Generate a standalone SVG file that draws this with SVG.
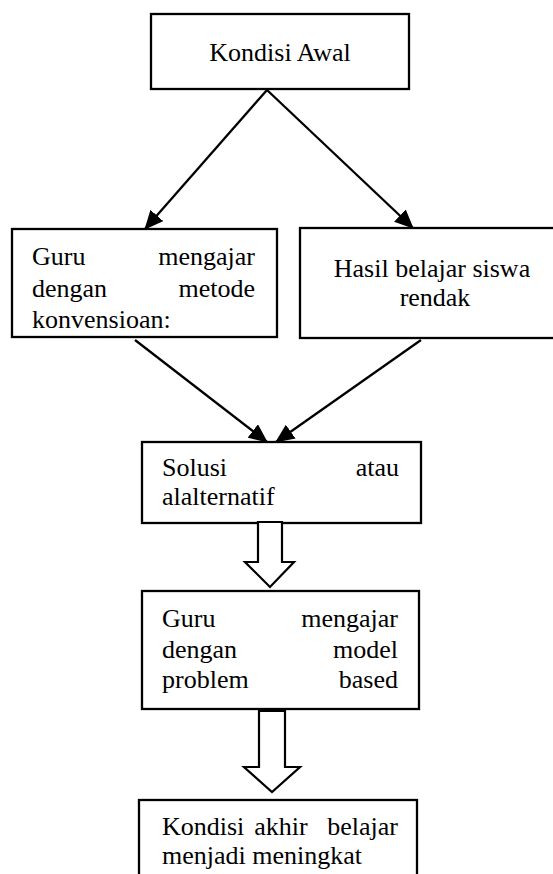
<svg xmlns="http://www.w3.org/2000/svg" width="553" height="874" viewBox="0 0 553 874">
<style>
.box{fill:#fff;stroke:#000;stroke-width:2.3}
text{font-family:'Liberation Serif','Times New Roman',Times,'DejaVu Serif',serif;font-size:26px;fill:#000}
.e{text-anchor:end}
.m{text-anchor:middle}
.ln{stroke:#000;stroke-width:2.3;fill:none}
.hollow{fill:#fff;stroke:#000;stroke-width:2.2;stroke-linejoin:miter}
</style>
<defs>
<marker id="ah" markerUnits="userSpaceOnUse" markerWidth="19" markerHeight="17" viewBox="0 0 19 17" refX="18" refY="8.5" orient="auto">
<path d="M0,0 L19,8.5 L0,17 Z" fill="#000"/>
</marker>
</defs>
<rect width="553" height="874" fill="#fff"/>
<g id="kondisi-awal">
<rect class="box" x="151" y="14" width="258" height="75"/>
<text class="m" x="280" y="61">Kondisi Awal</text>
</g>
<g id="guru-konvensional">
<rect class="box" x="12" y="229" width="265" height="108"/>
<text x="32" y="265">Guru</text><text class="e" x="255" y="265">mengajar</text>
<text x="32" y="297">dengan</text><text class="e" x="255" y="297">metode</text>
<text x="32" y="328">konvensioan:</text>
</g>
<g id="hasil-belajar">
<rect class="box" x="300" y="228" width="270" height="110"/>
<text class="m" x="432" y="277">Hasil belajar siswa</text>
<text class="m" x="435" y="306">rendak</text>
</g>
<g id="solusi">
<rect class="box" x="142" y="442" width="279" height="81"/>
<text x="162" y="476">Solusi</text><text class="e" x="399" y="476">atau</text>
<text x="162" y="505">alalternatif</text>
</g>
<g id="guru-pbl">
<rect class="box" x="142" y="591" width="277" height="118"/>
<text x="162" y="627">Guru</text><text class="e" x="398" y="627">mengajar</text>
<text x="162" y="658">dengan</text><text class="e" x="398" y="658">model</text>
<text x="162" y="688">problem</text><text class="e" x="398" y="688">based</text>
</g>
<g id="kondisi-akhir">
<rect class="box" x="139" y="800" width="278" height="90"/>
<text x="162" y="835">Kondisi</text><text class="m" x="281" y="835">akhir</text><text class="e" x="398" y="835">belajar</text>
<text x="162" y="864">menjadi meningkat</text>
</g>
<g id="connectors">
<line class="ln" x1="267" y1="90" x2="145" y2="229" marker-end="url(#ah)"/>
<line class="ln" x1="267" y1="90" x2="413" y2="228" marker-end="url(#ah)"/>
<line class="ln" x1="135" y1="340" x2="267" y2="442" marker-end="url(#ah)"/>
<line class="ln" x1="421" y1="340" x2="276" y2="442" marker-end="url(#ah)"/>
<polygon class="hollow" points="258,522 282,522 282,562 294,562 270,587 245,562 258,562"/>
<polygon class="hollow" points="259,711 285,711 285,767 300,767 272,792 244,767 259,767"/>
</g>
</svg>
